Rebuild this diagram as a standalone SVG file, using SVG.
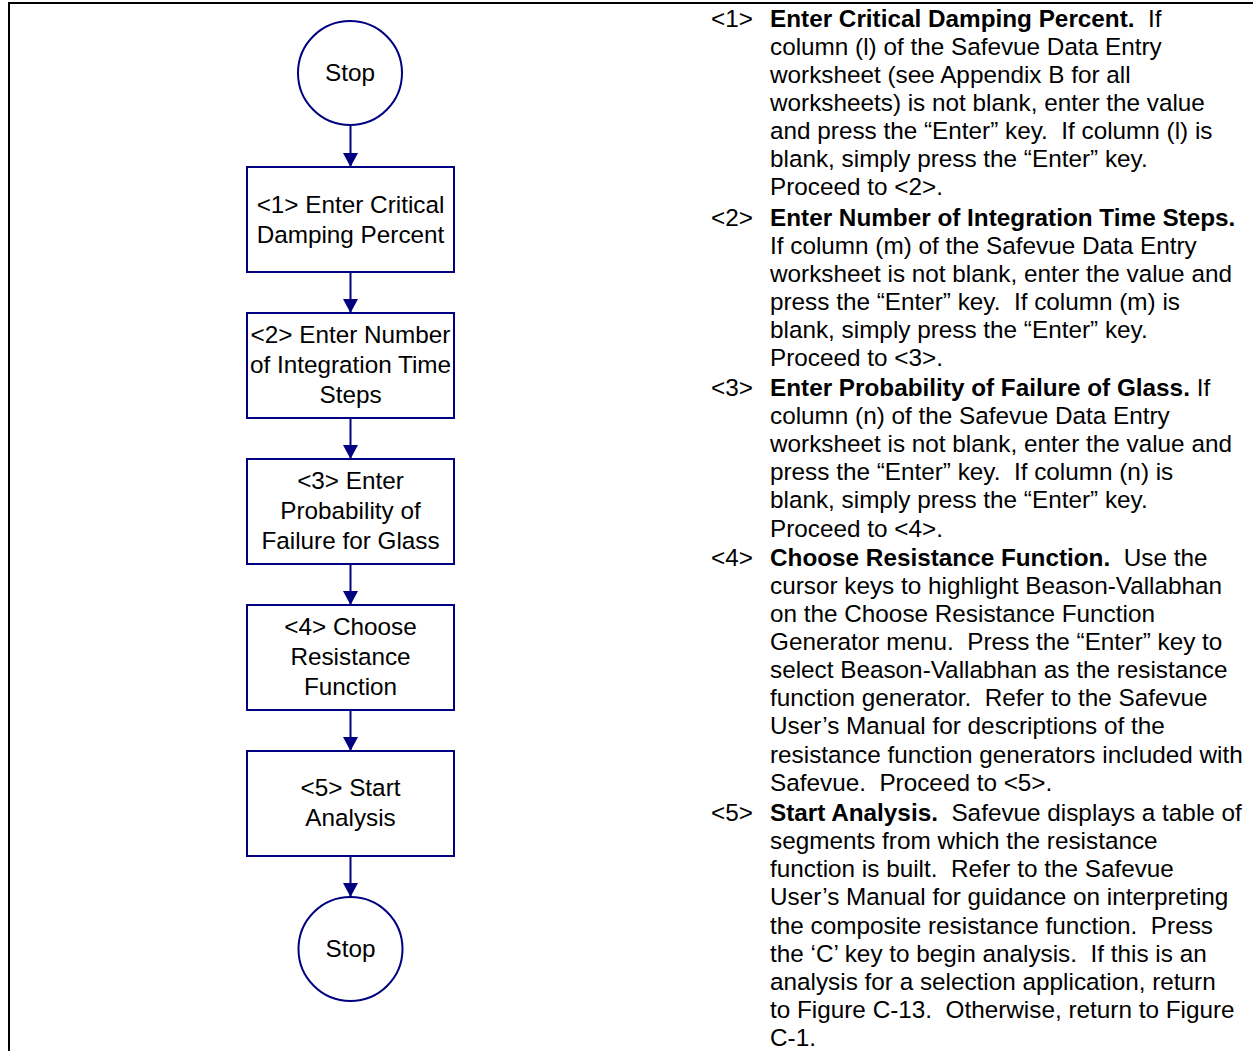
<svg xmlns="http://www.w3.org/2000/svg" width="1253" height="1051" viewBox="0 0 1253 1051">
<style>
.frame{stroke:#000;stroke-width:2;fill:none}
.shape{fill:#fff;stroke:#000080;stroke-width:2}
.conn{stroke:#000080;stroke-width:2;fill:none}
.lbl{font-family:"Liberation Sans",Arial,sans-serif;font-size:24.3px;fill:#000;text-anchor:middle}
.body{font-family:"Liberation Sans",Arial,sans-serif;font-size:24.3px;fill:#000}
.b{font-weight:bold}
</style>
<defs>
<marker id="arr" markerWidth="16" markerHeight="15" refX="15" refY="8" orient="auto" markerUnits="userSpaceOnUse" viewBox="0 0 15 16">
<path d="M0,0 L15,8 L0,16 Z" fill="#000080"/>
</marker>
</defs>
<rect width="1253" height="1051" fill="#fff"/>
<path class="frame" d="M8,3 H1253 M9,2 V1051"/>
<g id="connectors">
<line class="conn" x1="350.5" y1="125" x2="350.5" y2="167" marker-end="url(#arr)"/>
<line class="conn" x1="350.5" y1="272" x2="350.5" y2="313" marker-end="url(#arr)"/>
<line class="conn" x1="350.5" y1="418" x2="350.5" y2="459" marker-end="url(#arr)"/>
<line class="conn" x1="350.5" y1="564" x2="350.5" y2="605" marker-end="url(#arr)"/>
<line class="conn" x1="350.5" y1="710" x2="350.5" y2="751" marker-end="url(#arr)"/>
<line class="conn" x1="350.5" y1="856" x2="350.5" y2="897" marker-end="url(#arr)"/>
</g>
<g id="start">
<circle class="shape" cx="350" cy="73" r="52"/>
<text class="lbl" x="350" y="81">Stop</text>
</g>
<g id="n1">
<rect class="shape" x="247" y="167" width="207" height="105"/>
<text class="lbl" x="350.5" y="213">&lt;1&gt; Enter Critical</text>
<text class="lbl" x="350.5" y="243">Damping Percent</text>
</g>
<g id="n2">
<rect class="shape" x="247" y="313" width="207" height="105"/>
<text class="lbl" x="350.5" y="343">&lt;2&gt; Enter Number</text>
<text class="lbl" x="350.5" y="373">of Integration Time</text>
<text class="lbl" x="350.5" y="403">Steps</text>
</g>
<g id="n3">
<rect class="shape" x="247" y="459" width="207" height="105"/>
<text class="lbl" x="350.5" y="489">&lt;3&gt; Enter</text>
<text class="lbl" x="350.5" y="519">Probability of</text>
<text class="lbl" x="350.5" y="549">Failure for Glass</text>
</g>
<g id="n4">
<rect class="shape" x="247" y="605" width="207" height="105"/>
<text class="lbl" x="350.5" y="635">&lt;4&gt; Choose</text>
<text class="lbl" x="350.5" y="665">Resistance</text>
<text class="lbl" x="350.5" y="695">Function</text>
</g>
<g id="n5">
<rect class="shape" x="247" y="751" width="207" height="105"/>
<text class="lbl" x="350.5" y="796">&lt;5&gt; Start</text>
<text class="lbl" x="350.5" y="826">Analysis</text>
</g>
<g id="end">
<circle class="shape" cx="350.5" cy="949" r="52"/>
<text class="lbl" x="350.5" y="957">Stop</text>
</g>
<g id="notes">
<text class="body" x="711" y="27">&lt;1&gt;</text>
<text class="body"><tspan x="770" y="27"><tspan class="b">Enter Critical Damping Percent.</tspan> &#160;If</tspan><tspan x="770" y="55">column (l) of the Safevue Data Entry</tspan><tspan x="770" y="83">worksheet (see Appendix B for all</tspan><tspan x="770" y="111">worksheets) is not blank, enter the value</tspan><tspan x="770" y="139">and press the “Enter” key. &#160;If column (l) is</tspan><tspan x="770" y="167">blank, simply press the “Enter” key.</tspan><tspan x="770" y="195">Proceed to &lt;2&gt;.</tspan></text>
<text class="body" x="711" y="226">&lt;2&gt;</text>
<text class="body"><tspan x="770" y="226" class="b">Enter Number of Integration Time Steps.</tspan><tspan x="770" y="254">If column (m) of the Safevue Data Entry</tspan><tspan x="770" y="282">worksheet is not blank, enter the value and</tspan><tspan x="770" y="310">press the “Enter” key. &#160;If column (m) is</tspan><tspan x="770" y="338">blank, simply press the “Enter” key.</tspan><tspan x="770" y="366">Proceed to &lt;3&gt;.</tspan></text>
<text class="body" x="711" y="396">&lt;3&gt;</text>
<text class="body"><tspan x="770" y="396"><tspan class="b">Enter Probability of Failure of Glass.</tspan> If</tspan><tspan x="770" y="424">column (n) of the Safevue Data Entry</tspan><tspan x="770" y="452">worksheet is not blank, enter the value and</tspan><tspan x="770" y="480">press the “Enter” key. &#160;If column (n) is</tspan><tspan x="770" y="508">blank, simply press the “Enter” key.</tspan><tspan x="770" y="537">Proceed to &lt;4&gt;.</tspan></text>
<text class="body" x="711" y="566">&lt;4&gt;</text>
<text class="body"><tspan x="770" y="566"><tspan class="b">Choose Resistance Function.</tspan> &#160;Use the</tspan><tspan x="770" y="594">cursor keys to highlight Beason-Vallabhan</tspan><tspan x="770" y="622">on the Choose Resistance Function</tspan><tspan x="770" y="650">Generator menu. &#160;Press the “Enter” key to</tspan><tspan x="770" y="678">select Beason-Vallabhan as the resistance</tspan><tspan x="770" y="706">function generator. &#160;Refer to the Safevue</tspan><tspan x="770" y="734">User’s Manual for descriptions of the</tspan><tspan x="770" y="763">resistance function generators included with</tspan><tspan x="770" y="791">Safevue. &#160;Proceed to &lt;5&gt;.</tspan></text>
<text class="body" x="711" y="821">&lt;5&gt;</text>
<text class="body"><tspan x="770" y="821"><tspan class="b">Start Analysis.</tspan> &#160;Safevue displays a table of</tspan><tspan x="770" y="849">segments from which the resistance</tspan><tspan x="770" y="877">function is built. &#160;Refer to the Safevue</tspan><tspan x="770" y="905">User’s Manual for guidance on interpreting</tspan><tspan x="770" y="934">the composite resistance function. &#160;Press</tspan><tspan x="770" y="962">the ‘C’ key to begin analysis. &#160;If this is an</tspan><tspan x="770" y="990">analysis for a selection application, return</tspan><tspan x="770" y="1018">to Figure C-13. &#160;Otherwise, return to Figure</tspan><tspan x="770" y="1046">C-1.</tspan></text>
</g>
</svg>
